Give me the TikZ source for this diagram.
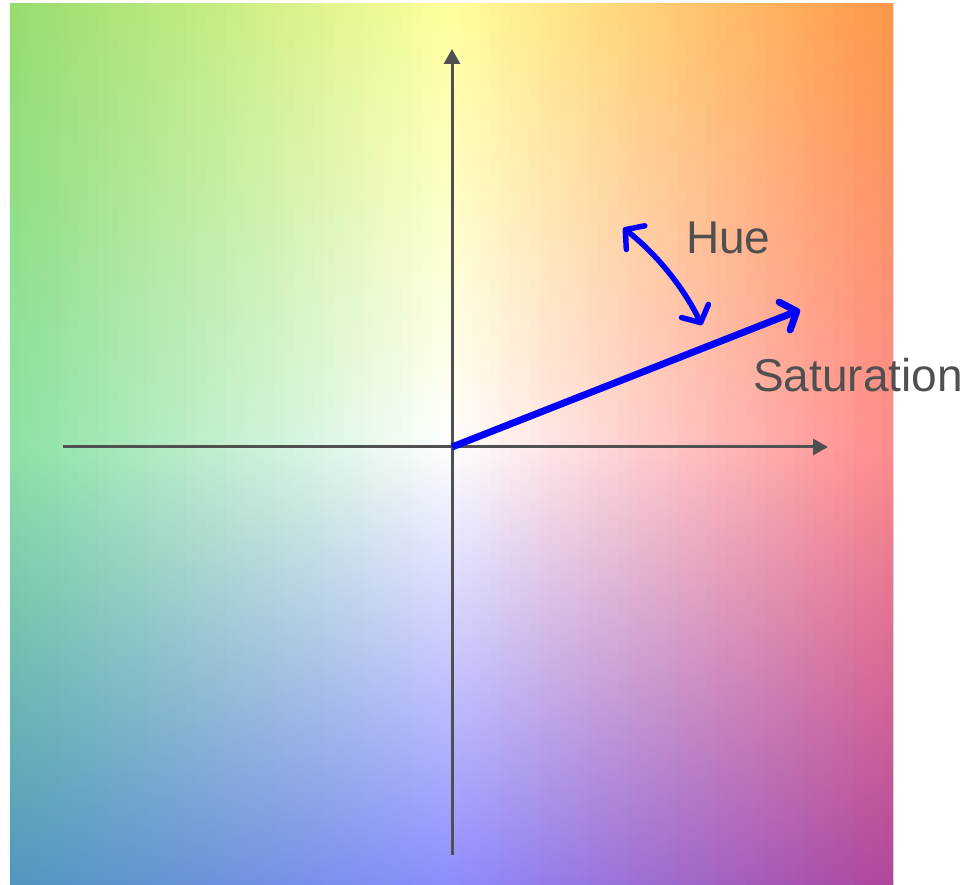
\documentclass[tikz,border=0pt]{standalone}
\usepackage{fontspec}
\setmainfont{Liberation Sans}
\usetikzlibrary{arrows.meta}
\definecolor{TL}{RGB}{150,220,110}
\definecolor{TC}{RGB}{255,255,156}
\definecolor{TR}{RGB}{255,150,72}
\definecolor{ML}{RGB}{140,225,165}
\definecolor{MC}{RGB}{255,255,255}
\definecolor{MR}{RGB}{255,140,140}
\definecolor{BL}{RGB}{80,150,190}
\definecolor{BC}{RGB}{140,140,255}
\definecolor{BR}{RGB}{176,70,156}
\definecolor{axisgray}{RGB}{80,80,80}
\definecolor{textgray}{RGB}{80,80,80}
\tikzset{
  axisline/.style={draw=axisgray, line width=3pt, -{Triangle[length=15pt,width=16pt]}},
  bluearrow/.style={draw=blue, line width=7pt, -{Straight Barb[length=13pt,width=30pt,line width=7pt,round]}},
  huearrow/.style={draw=blue, line width=5.5pt, {Straight Barb[length=13pt,width=30pt,line width=5.5pt,round]}-{Straight Barb[length=13pt,width=30pt,line width=5.5pt,round]}},
  labeltext/.style={text=textgray, font=\fontsize{46}{52}\selectfont, inner sep=0pt, anchor=base west}
}
\begin{document}
\begin{tikzpicture}[x=1pt,y=1pt]
\useasboundingbox (0,0) rectangle (975,885);
\begin{scope}
\clip (10,-3) rectangle (893,881);
\foreach \i in {0,...,89}{
  \pgfmathsetmacro{\t}{(\i+0.5)/90}
  \pgfmathsetmacro{\xa}{10+\i*9.8111}
  \pgfmathsetmacro{\xb}{\xa+10.6}
  \ifdim\t pt<0.5pt
    \pgfmathtruncatemacro{\p}{200*\t}
    \colorlet{ct}{TC!\p!TL}
    \colorlet{cm}{MC!\p!ML}
    \colorlet{cb}{BC!\p!BL}
  \else
    \pgfmathtruncatemacro{\p}{200*(1-\t)}
    \colorlet{ct}{TC!\p!TR}
    \colorlet{cm}{MC!\p!MR}
    \colorlet{cb}{BC!\p!BR}
  \fi
  \fill[top color=ct, bottom color=cb, middle color=cm] (\xa,-3) rectangle (\xb,881);
  \fill[cb] (\xa,-3) rectangle (\xb,5);
}
\end{scope}
\coordinate (O) at (452,438);
\coordinate (xl) at (63,438);
\coordinate (xr) at (828,438);
\coordinate (yb) at (452,30);
\coordinate (yt) at (452,836);
\coordinate (sat) at (800,575);
\draw[axisline] (xl) -- (xr);
\draw[axisline] (yb) -- (yt);
\draw[bluearrow] (O) -- (sat);
\draw[huearrow] (O) ++(52:278) arc[start angle=52, end angle=26, radius=278];
\node[labeltext] (hue) at (686,631) {Hue};
\node[labeltext] (satl) at (753,493) {Saturation};
\end{tikzpicture}
\end{document}
